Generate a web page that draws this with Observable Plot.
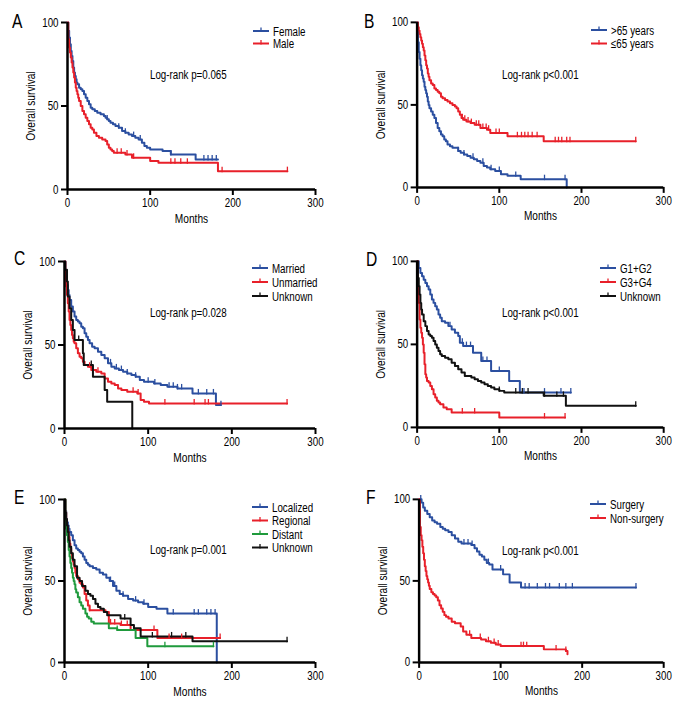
<!DOCTYPE html>
<html>
<head>
<meta charset="utf-8">
<script src="https://cdn.jsdelivr.net/npm/d3@7"></script>
<script src="https://cdn.jsdelivr.net/npm/@observablehq/plot@0.6"></script>
<style>
  html, body { margin: 0; padding: 0; background: #fff; }
  #page { position: relative; width: 696px; height: 720px; overflow: hidden; background: #fff; }
  .panel { position: absolute; }
  #overlay { position: absolute; left: 0; top: 0; }
</style>
</head>
<body>
<div id="page"></div>
<script>
const FONT = '"Liberation Sans", Arial, sans-serif';
const NARROW = 0.78; // horizontal compression to mimic the condensed typeface
const BLUE = "#2b4fa0", RED = "#e8202a", GREEN = "#1f9a3c", BLACK = "#111111";

// ---------- Data ----------
const xTicks = [0, 100, 200, 300];
const yTicks = [0, 50, 100];

// Panel A
const aGroups = ["Female", "Male"];
const aFemaleT = [0,1,2,3,4,5,6,7,8,9,10,11,12,14,16,18,20,22,24,26,28,30,33,36,40,44,46,48,50,52,55,58,62,66,70,74,78,82,86,90,93,96,100,115,125,155,182];
const aFemaleS = [100,95,91,87,83,80,77,73,70,68,66,64,63,61,60,59,57,55,53,51,49,48,47,46,45,44,43,42,41,40,39,38,37,35,34,33,32,31,30,28,26,25,24,23,21,18,18];
const aFemaleC = [48,62,70,80,88,125,165,170,175,180];
const aMaleT = [0,1,2,3,4,5,6,7,8,9,10,11,12,13,14,16,18,20,22,24,26,28,30,32,35,38,42,46,48,50,52,54,56,65,70,78,85,100,110,182,266];
const aMaleS = [100,90,85,82,79,76,73,70,67,64,61,59,57,55,53,50,47,45,43,41,39,37,36,34,32,31,30,29,27,25,24,23,22,22,21,19,19,17,16,11,11];
const aMaleC = [60,65,72,80,125,130,137,145,187,266];
const aPText = "Log-rank p=0.065";

// Panel B
const bGroups = [">65 years", "≤65 years"];
const bOldT = [0,1,2,3,4,5,6,7,8,9,10,11,12,13,14,15,17,19,21,23,25,27,29,31,33,35,37,40,43,46,50,53,57,61,65,69,73,77,81,85,89,95,102,110,120,126,182];
const bOldS = [100,88,82,78,74,71,68,66,64,61,59,57,55,52,50,48,46,44,42,39,36,34,32,31,29,28,26,25,24,24,22,21,20,19,18,17,16,15,13,12,11,10,8,7,7,5,0];
const bOldC = [50,57,68,80,90,100,120,155,180];
const bYoungT = [0,1,2,3,4,5,6,7,8,9,10,11,12,13,14,15,17,19,21,23,25,27,29,31,34,37,40,43,46,48,50,52,54,56,60,65,70,77,85,89,95,110,154,266];
const bYoungS = [100,97,95,93,91,89,87,85,83,80,77,74,72,69,67,65,63,62,60,59,58,57,55,54,53,52,51,50,49,48,46,44,42,41,40,39,38,36,35,33,33,31,28,28];
const bYoungC = [55,58,62,66,72,75,80,84,87,96,100,122,127,131,135,140,146,168,172,176,182,186,266];
const bPText = "Log-rank p<0.001";

// Panel C
const cGroups = ["Married", "Unmarried", "Unknown"];
const cMarT = [0,1,2,3,4,5,6,8,10,12,14,16,18,20,22,24,26,28,30,33,36,40,44,48,52,56,60,65,70,75,80,85,90,95,100,107,115,123,135,143,153,181,187];
const cMarS = [100,93,89,86,83,80,77,73,70,67,65,64,63,61,60,57,55,53,51,49,48,46,44,42,39,37,36,35,34,33,32,31,29,28,28,27,26,25,24,24,21,14,14];
const cMarC = [55,62,68,75,85,100,108,125,130,135,140,160,170,178,187];
const cUnmT = [0,1,2,3,4,5,6,7,8,9,10,11,12,14,16,18,20,22,24,28,32,38,44,48,52,56,60,64,68,75,87,91,95,101,266];
const cUnmS = [100,90,85,80,75,70,65,62,59,56,54,52,51,48,45,43,42,40,38,37,35,34,33,30,28,27,26,24,23,22,21,17,16,15,15];
const cUnmC = [30,40,82,88,120,155,168,172,266];
const cUnkT = [0,1,3,4,6,8,10,12,16,22,23,34,48,51,81];
const cUnkS = [100,95,88,79,72,65,59,53,53,45,38,31,23,16,0];
const cUnkC = [17,32];
const cPText = "Log-rank p=0.028";

// Panel D
const dGroups = ["G1+G2", "G3+G4", "Unknown"];
const dG12T = [0,2,4,6,8,10,12,14,16,18,20,22,24,26,28,30,34,38,42,46,50,52,56,68,72,78,90,100,112,125,187];
const dG12S = [100,96,93,91,89,87,85,83,80,77,75,73,71,68,66,64,63,61,59,57,55,51,49,45,45,40,34,34,28,21,21];
const dG12C = [40,55,60,65,80,85,100,130,155,175,187];
const dG34T = [0,1,2,3,4,5,6,7,8,9,10,11,12,14,16,18,20,22,24,26,28,32,36,42,100,180];
const dG34S = [100,85,75,65,60,57,54,50,45,38,32,30,28,27,25,23,20,18,16,15,14,12,11,9,6,6];
const dG34C = [55,70,155,180];
const dUnkT = [0,1,2,3,4,5,6,8,10,12,14,16,18,20,22,24,26,28,30,34,38,42,46,50,54,58,62,66,70,74,78,82,86,90,94,100,106,154,181,266];
const dUnkS = [100,90,85,80,75,71,68,64,61,58,56,55,54,52,50,48,46,44,43,42,41,39,37,35,33,31,31,30,29,28,27,26,25,24,23,22,21,19,13,13];
const dUnkC = [100,120,128,135,155,170,178,266];
const dPText = "Log-rank p<0.001";

// Panel E
const eGroups = ["Localized", "Regional", "Distant", "Unknown"];
const eLocT = [0,1,2,3,4,5,6,8,10,12,14,16,18,20,22,24,26,28,30,34,38,42,46,50,54,58,62,66,70,76,82,88,94,100,110,123,182];
const eLocS = [100,93,88,86,84,82,80,78,75,72,70,69,68,67,65,63,61,60,59,58,57,55,54,52,50,47,44,42,41,39,38,37,36,34,33,30,0];
const eLocC = [55,60,70,85,95,130,155,160,170,175,180];
const eRegT = [0,1,2,3,4,5,6,7,8,9,10,11,12,13,14,16,18,20,22,24,26,28,30,49,53,67,79,111,186];
const eRegS = [100,92,87,83,80,77,73,70,67,64,62,60,58,55,53,51,49,48,46,42,38,35,32,31,24,23,20,15,15];
const eRegC = [30,55,60,68,75,107,125,140,186];
const eDisT = [0,1,2,3,4,5,6,7,8,9,10,11,12,13,14,16,18,20,22,25,27,29,32,35,53,63,85,99,178];
const eDisS = [100,88,82,78,74,69,65,61,58,55,52,50,48,45,43,40,37,35,33,30,28,27,25,24,21,20,15,10,10];
const eDisC = [63,120,178];
const eUnkT = [0,1,2,3,4,5,6,8,10,12,15,18,21,25,28,31,34,37,40,43,47,51,67,79,83,91,153,266];
const eUnkS = [100,92,88,84,80,75,71,67,63,59,52,50,47,44,42,41,39,36,34,33,31,29,27,23,21,16,13,13];
const eUnkC = [72,105,128,145,266];
const ePText = "Log-rank p=0.001";

// Panel F
const fGroups = ["Surgery", "Non-surgery"];
const fSurT = [0,3,5,7,10,13,16,19,22,26,29,32,36,40,44,48,52,56,60,64,68,71,74,77,80,83,86,90,96,103,111,125,266];
const fSurS = [100,98,95,93,91,89,87,86,85,83,82,81,80,78,76,74,73,73,73,72,70,68,66,65,63,61,60,57,57,54,49,46,46];
const fSurC = [2,55,60,65,85,100,130,135,145,155,160,172,180,188,266];
const fNonT = [0,1,2,3,4,5,6,7,8,9,10,11,12,13,15,17,19,21,23,25,27,29,31,33,36,40,44,48,51,54,58,64,70,76,82,88,94,100,110,153,180,182];
const fNonS = [100,83,78,75,71,67,63,59,56,53,51,49,47,45,43,42,41,40,38,35,33,31,29,28,27,25,24,24,22,19,17,15,15,14,13,12,11,10,10,8,7,5];
const fNonC = [62,75,85,92,97,125,128,132,168,180];
const fPText = "Log-rank p<0.001";

// ---------- Build panels ----------
function series(name, T, S, C) { return {name, T, S, C}; }
function survAt(T, S, t) {
  let v = S[0];
  for (let i = 0; i < T.length; i++) { if (T[i] <= t) v = S[i]; else break; }
  return v;
}

const panels = [
  {letter: "A", groups: aGroups, colors: [BLUE, RED], p: aPText,
   series: [series("Female", aFemaleT, aFemaleS, aFemaleC), series("Male", aMaleT, aMaleS, aMaleC)],
   box: {x0: 67, x1: 315, y1: 22, y0: 189}, letterPos: [12, 28], legend: [253, 31, 12.5], pPos: [150, 79]},
  {letter: "B", groups: bGroups, colors: [BLUE, RED], p: bPText,
   series: [series(">65 years", bOldT, bOldS, bOldC), series("≤65 years", bYoungT, bYoungS, bYoungC)],
   box: {x0: 417, x1: 665, y1: 22, y0: 188}, letterPos: [364, 28], legend: [591, 30, 13.5], pPos: [502, 79]},
  {letter: "C", groups: cGroups, colors: [BLUE, RED, BLACK], p: cPText,
   series: [series("Married", cMarT, cMarS, cMarC), series("Unmarried", cUnmT, cUnmS, cUnmC), series("Unknown", cUnkT, cUnkS, cUnkC)],
   box: {x0: 64, x1: 315, y1: 261, y0: 428}, letterPos: [14, 265], legend: [252, 268, 14], pPos: [150, 317]},
  {letter: "D", groups: dGroups, colors: [BLUE, RED, BLACK], p: dPText,
   series: [series("G1+G2", dG12T, dG12S, dG12C), series("G3+G4", dG34T, dG34S, dG34C), series("Unknown", dUnkT, dUnkS, dUnkC)],
   box: {x0: 417, x1: 665, y1: 261, y0: 428}, letterPos: [366, 266], legend: [600, 268, 14], pPos: [502, 317]},
  {letter: "E", groups: eGroups, colors: [BLUE, RED, GREEN, BLACK], p: ePText,
   series: [series("Localized", eLocT, eLocS, eLocC), series("Regional", eRegT, eRegS, eRegC), series("Distant", eDisT, eDisS, eDisC), series("Unknown", eUnkT, eUnkS, eUnkC)],
   box: {x0: 64, x1: 315, y1: 499, y0: 662}, letterPos: [14, 504], legend: [252, 507, 13.5], pPos: [150, 554]},
  {letter: "F", groups: fGroups, colors: [BLUE, RED], p: fPText,
   series: [series("Surgery", fSurT, fSurS, fSurC), series("Non-surgery", fNonT, fNonS, fNonC)],
   box: {x0: 419, x1: 665, y1: 499, y0: 663}, letterPos: [366, 504], legend: [590, 504, 14], pPos: [502, 555]}
];

const censorSymbol = {
  draw(ctx, size) {
    const r = Math.sqrt(size / Math.PI);
    ctx.moveTo(0, 1);
    ctx.lineTo(0, -r * 1.6);
  }
};

const ML = 66, MR = 33, MT = 22, MB = 42;
const page = document.getElementById("page");

for (const P of panels) {
  const lines = [], cens = [];
  for (const s of P.series) {
    s.T.forEach((t, i) => lines.push({g: s.name, t, s: s.S[i]}));
    s.C.forEach(t => cens.push({g: s.name, t, s: survAt(s.T, s.S, t)}));
  }
  const W = (P.box.x1 - P.box.x0) + ML + MR;
  const H = (P.box.y0 - P.box.y1) + MT + MB;
  const chart = Plot.plot({
    width: W, height: H,
    marginLeft: ML, marginRight: MR, marginTop: MT, marginBottom: MB,
    x: {domain: [0, 300]},
    y: {domain: [0, 100]},
    color: {domain: P.groups, range: P.colors},
    style: {fontFamily: FONT, fontSize: "12px", color: "black", background: "transparent", overflow: "visible"},
    marks: [
      Plot.axisX({ticks: xTicks, tickSize: 6, tickPadding: 3, strokeWidth: 2, fontSize: 12.5, label: null}),
      Plot.axisY({ticks: yTicks, tickSize: 6, tickPadding: 3, strokeWidth: 2, fontSize: 12.5, label: null}),
      Plot.axisX({ticks: [], tickSize: 0, label: "Months", labelAnchor: "center", labelArrow: "none", labelOffset: 33, fontSize: 13}),
      Plot.axisY({ticks: [], tickSize: 0, label: "Overall survival", labelAnchor: "center", labelArrow: "none", labelOffset: 42, fontSize: 13}),
      Plot.line(lines, {x: "t", y: "s", z: "g", stroke: "g", curve: "step-after", strokeWidth: 2}),
      Plot.dot(cens, {x: "t", y: "s", stroke: "g", symbol: censorSymbol, r: 2.8, strokeWidth: 1.3}),
      Plot.ruleX([0], {strokeWidth: 2.5, stroke: "black"}),
      Plot.ruleY([0], {strokeWidth: 2.5, stroke: "black"})
    ]
  });
  const wrap = document.createElement("div");
  wrap.className = "panel";
  wrap.style.left = (P.box.x0 - ML) + "px";
  wrap.style.top = (P.box.y1 - MT) + "px";
  wrap.appendChild(chart);
  page.appendChild(wrap);
}

// ---------- Overlay texts: panel letters, legends, p-values ----------
const svgNS = "http://www.w3.org/2000/svg";
const ov = document.createElementNS(svgNS, "svg");
ov.setAttribute("id", "overlay");
ov.setAttribute("width", 696);
ov.setAttribute("height", 720);
ov.style.fontFamily = FONT;
function el(tag, attrs, text) {
  const e = document.createElementNS(svgNS, tag);
  for (const k in attrs) e.setAttribute(k, attrs[k]);
  if (text != null) e.textContent = text;
  ov.appendChild(e);
  return e;
}
for (const P of panels) {
  el("text", {x: P.letterPos[0], y: P.letterPos[1], "font-size": 20, fill: "black"}, P.letter);
  el("text", {x: P.pPos[0], y: P.pPos[1], "font-size": 12.5, fill: "black"}, P.p);
  const [lx, ly, step] = P.legend;
  P.groups.forEach((g, i) => {
    const y = ly + i * step;
    el("line", {x1: lx, x2: lx + 16, y1: y, y2: y, stroke: P.colors[i], "stroke-width": 2});
    el("line", {x1: lx + 8, x2: lx + 8, y1: y + 1, y2: y - 3.5, stroke: P.colors[i], "stroke-width": 1.3});
    el("text", {x: lx + 20, y: y + 4.5, "font-size": 12.5, fill: "black"}, g);
  });
}
page.appendChild(ov);

// Compress all texts horizontally to imitate the condensed typeface of the original
document.querySelectorAll("#page text").forEach(t => {
  const len = t.getComputedTextLength();
  if (len > 0) {
    t.setAttribute("textLength", (len * NARROW).toFixed(2));
    t.setAttribute("lengthAdjust", "spacingAndGlyphs");
  }
});
</script>
</body>
</html>
